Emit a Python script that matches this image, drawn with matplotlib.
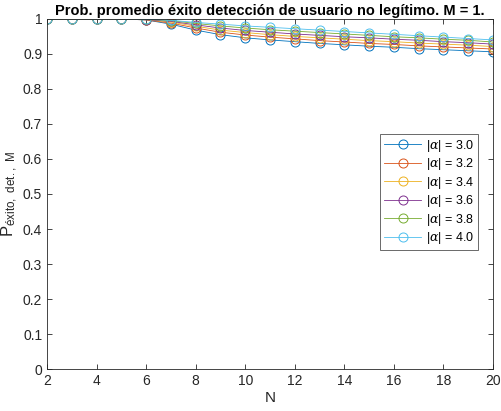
import matplotlib
matplotlib.use('Agg')
import matplotlib.pyplot as plt

# Datos
N = list(range(2, 21))
alfas = ['3.0', '3.2', '3.4', '3.6', '3.8', '4.0']
p_30 = [1, 1, 1, 1, 0.997, 0.985, 0.968, 0.955, 0.946, 0.940, 0.935, 0.930, 0.926, 0.922, 0.919, 0.915, 0.912, 0.909, 0.906]
p_32 = [1, 1, 1, 1, 0.997, 0.988, 0.974, 0.962, 0.954, 0.948, 0.943, 0.938, 0.934, 0.930, 0.927, 0.923, 0.920, 0.917, 0.914]
p_34 = [1, 1, 1, 1, 0.998, 0.991, 0.979, 0.968, 0.961, 0.955, 0.950, 0.946, 0.942, 0.938, 0.935, 0.931, 0.928, 0.925, 0.921]
p_36 = [1, 1, 1, 1, 0.998, 0.993, 0.983, 0.974, 0.967, 0.962, 0.957, 0.953, 0.949, 0.946, 0.942, 0.939, 0.935, 0.932, 0.928]
p_38 = [1, 1, 1, 1, 0.999, 0.995, 0.987, 0.980, 0.974, 0.969, 0.965, 0.961, 0.957, 0.953, 0.949, 0.946, 0.942, 0.939, 0.934]
p_40 = [1, 1, 1, 1, 0.999, 0.996, 0.990, 0.985, 0.980, 0.976, 0.972, 0.968, 0.964, 0.960, 0.956, 0.952, 0.948, 0.944, 0.940]
series = [p_30, p_32, p_34, p_36, p_38, p_40]
colores = ['#0072BD', '#D95319', '#EDB120', '#7E2F8E', '#77AC30', '#4DBEEE']

plt.rcParams['font.family'] = ['Liberation Sans', 'DejaVu Sans']
plt.rcParams['mathtext.fontset'] = 'custom'
plt.rcParams['mathtext.rm'] = 'Liberation Sans'
plt.rcParams['mathtext.it'] = 'DejaVu Serif:italic'

fig = plt.figure(figsize=(5.01, 4.11), dpi=100)
ax = fig.add_axes([0.094, 0.102, 0.890, 0.852])

for valores, alfa, c in zip(series, alfas, colores):
    ax.plot(N, valores, '-o', color=c, linewidth=0.6, markersize=6.5,
            markerfacecolor='none', markeredgewidth=0.7,
            label=r'$|\alpha|$ = ' + alfa)

ax.set_xlim(2, 20)
ax.set_ylim(0, 1)
ax.set_xticks(range(2, 21, 2))
ax.set_yticks([i / 10 for i in range(11)])
ax.set_yticklabels(['0'] + ['%.1f' % (i / 10) for i in range(1, 10)] + ['1'])
ax.tick_params(direction='in', length=3.5, width=0.6, colors='#262626',
               labelsize=10, top=True, right=True)
for s in ax.spines.values():
    s.set_linewidth(0.6)
    s.set_color('#262626')

ax.set_xlabel('N', fontsize=11, color='#262626', labelpad=2)
ax.set_ylabel(r'P$_{\mathregular{éxito,\ det.,\ M}}$', fontsize=12,
              color='#262626', labelpad=2)
ax.set_title('Prob. promedio éxito detección de usuario no legítimo. M = 1.',
             fontsize=10.5, fontweight='bold', pad=3)

leg = ax.legend(loc='upper left', bbox_to_anchor=(0.747, 0.672), fontsize=9,
                frameon=True, fancybox=False, edgecolor='#262626',
                handlelength=3.0, borderpad=0.3, labelspacing=0.2,
                handletextpad=0.4, borderaxespad=0)
leg.get_frame().set_linewidth(0.6)

fig.savefig('out.png', dpi=100)
